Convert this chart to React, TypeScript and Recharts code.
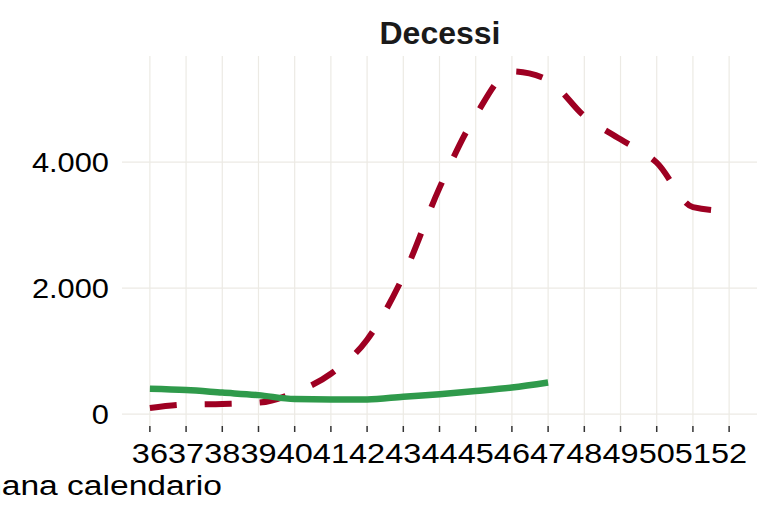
import React from 'react';
import { LineChart, Line, XAxis, YAxis, CartesianGrid } from 'recharts';

const weeks = [36, 37, 38, 39, 40, 41, 42, 43, 44, 45, 46, 47, 48, 49, 50, 51, 52];
const expectedDeaths = [95, 150, 160, 180, 340, 640, 1180, 2190, 3590, 4740, 5440, 5300, 4730, 4360, 3990, 3285, 3220];
const observedDeaths = [400, 380, 340, 300, 238, 232, 232, 275, 315, 365, 420, 500];
const yTicks = [0, 2000, 4000];

const X_DOMAIN = [35.23, 52.77];
const Y_DOMAIN = [-190, 5683];

const data = weeks.map((w, i) => ({
  week: w,
  expected: expectedDeaths[i],
  observed: i < observedDeaths.length ? observedDeaths[i] : null,
}));

const FONT = '"Liberation Sans", Arial, sans-serif';
const fmt = (v: number) => v.toLocaleString('it-IT');

// grid only at the ticks, no lines on the panel border
const vGrid = ({ offset }: any) =>
  weeks.map((w) => offset.left + ((w - X_DOMAIN[0]) / (X_DOMAIN[1] - X_DOMAIN[0])) * offset.width);
const hGrid = ({ offset }: any) =>
  yTicks.map((t) => offset.top + ((Y_DOMAIN[1] - t) / (Y_DOMAIN[1] - Y_DOMAIN[0])) * offset.height);

// text in the reference is a bit wider than the font, so stretch it horizontally
function XTick({ x, y, payload }: any) {
  return (
    <text transform={`translate(${x},${y + 29}) scale(1.16,1)`} textAnchor="middle" fontFamily={FONT} fontSize={28} fill="#000">
      {payload.value}
    </text>
  );
}

function YTick({ x, y, payload }: any) {
  return (
    <text transform={`translate(${x},${y + 10}) scale(1.1,1)`} textAnchor="end" fontFamily={FONT} fontSize={28} fill="#000">
      {fmt(payload.value)}
    </text>
  );
}

export default function App() {
  return (
    <div style={{ position: 'absolute', left: 0, top: 0, width: 769, height: 505, background: '#fff', overflow: 'hidden' }}>
      <LineChart width={769} height={505} data={data} margin={{ top: 56, right: 12, bottom: 0, left: 0 }}>
        <CartesianGrid
          stroke="#ECEAE4"
          strokeWidth={1.2}
          verticalCoordinatesGenerator={vGrid}
          horizontalCoordinatesGenerator={hGrid}
        />
        <XAxis
          dataKey="week"
          type="number"
          domain={X_DOMAIN}
          ticks={weeks}
          interval={0}
          height={79}
          axisLine={false}
          tickLine={{ stroke: '#333', strokeWidth: 1.5 }}
          tickSize={6}
          tickMargin={2}
          tick={<XTick />}
        />
        <YAxis
          type="number"
          domain={Y_DOMAIN}
          ticks={yTicks}
          allowDataOverflow
          width={122}
          axisLine={false}
          tickLine={false}
          tickSize={0}
          tickMargin={13}
          tick={<YTick />}
        />
        <Line
          type="monotone"
          dataKey="expected"
          stroke="#9E0022"
          strokeWidth={6}
          strokeDasharray="27 28"
          dot={false}
          activeDot={false}
          isAnimationActive={false}
        />
        <Line
          type="monotone"
          dataKey="observed"
          stroke="#2F9A4B"
          strokeWidth={6.5}
          dot={false}
          activeDot={false}
          isAnimationActive={false}
        />
      </LineChart>
      <svg width={769} height={505} style={{ position: 'absolute', left: 0, top: 0, pointerEvents: 'none' }}>
        <text x={440} y={44} textAnchor="middle" fontFamily={FONT} fontSize={32} fontWeight="bold" fill="#1a1a1a">
          Decessi
        </text>
        <text transform="translate(222,495) scale(1.2,1)" textAnchor="end" fontFamily={FONT} fontSize={28} fill="#000">
          Settimana calendario
        </text>
      </svg>
    </div>
  );
}
